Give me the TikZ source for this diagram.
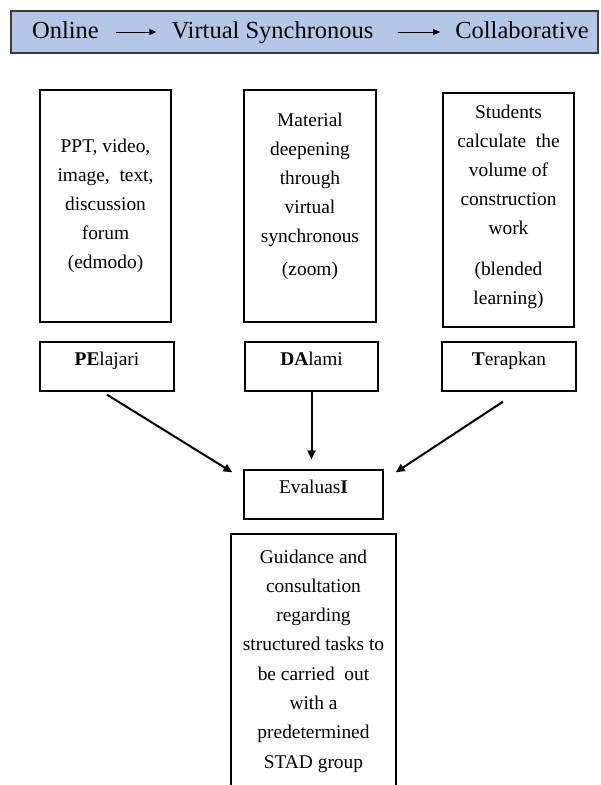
\documentclass[tikz,border=0pt]{standalone}
\usepackage{fontspec}
\setmainfont{Liberation Serif}
\usetikzlibrary{arrows.meta}
\definecolor{bannerblue}{HTML}{B4C7E7}
\definecolor{bannerline}{HTML}{3A3A3A}
\tikzset{
  boxshape/.style={draw=black, line width=1.3pt, inner sep=0pt},
  bodytext/.style={inner sep=0pt, align=center, font=\fontsize{19.4}{29}\selectfont},
  labeltext/.style={inner sep=0pt, anchor=base, font=\fontsize{19.4}{24}\selectfont},
  headtext/.style={inner sep=0pt, anchor=base, text height=17pt, text depth=5pt, font=\fontsize{24.5}{29}\selectfont},
  headarrow/.style={line width=1pt, -{Triangle[length=7pt,width=6pt]}},
  flowarrow/.style={line width=2pt, -{Triangle[length=9pt,width=8pt]}},
}
\begin{document}
\begin{tikzpicture}[x=1pt,y=-1pt]
\useasboundingbox (0,0) rectangle (601,785);
\clip (0,0) rectangle (601,785);
\fill[white] (0,0) rectangle (601,785);

% banner
\node[draw=bannerline, fill=bannerblue, line width=1.8pt, minimum width=587pt, minimum height=42pt, inner sep=0pt] (banner) at (304.5,32) {};
\node[headtext] (on) at (65.5,38) {Online};
\node[headtext] (vs) at (272.5,38) {Virtual Synchronous};
\node[headtext] (co) at (522,38) {Collaborative};
\draw[headarrow, shorten <=17pt, shorten >=15pt] (on) -- (vs);
\draw[headarrow, shorten <=24pt, shorten >=15pt] (vs) -- (co);

% upper boxes
\node[boxshape, minimum width=131pt, minimum height=232pt] (b1) at (105.5,206) {};
\node[boxshape, minimum width=132pt, minimum height=232pt] (b2) at (310,206) {};
\node[boxshape, minimum width=131pt, minimum height=234pt] (b3) at (508.5,210) {};

\node[bodytext] (t1) at (105.5,206) {PPT, video,\\image,\ \ text,\\discussion\\forum\\(edmodo)};
\node[bodytext] (t2) at (310,196) {Material\\deepening\\through\\virtual\\synchronous\\[4pt](zoom)};
\node[bodytext] (t3) at (508.5,207) {Students\\calculate\ \ the\\volume of\\construction\\work\\[12pt](blended\\learning)};

% label boxes
\node[boxshape, minimum width=134pt, minimum height=49pt] (pel) at (107,366.5) {};
\node[boxshape, minimum width=133pt, minimum height=49pt] (dal) at (311.5,366.5) {};
\node[boxshape, minimum width=134pt, minimum height=49pt] (ter) at (509,366.5) {};
\node[labeltext] (lpel) at (107,365) {\textbf{PE}lajari};
\node[labeltext] (ldal) at (311.5,365) {\textbf{DA}lami};
\node[labeltext] (lter) at (509,365) {\textbf{T}erapkan};

\node[boxshape, minimum width=139pt, minimum height=49pt] (eva) at (313.5,494.5) {};
\node[labeltext] (leva) at (313.5,493) {Evaluas\textbf{I}};

% bottom box (cut by the lower edge)
\node[boxshape, line width=1.1pt, minimum width=165pt, minimum height=280pt] (guide) at (313.5,674) {};
\node[bodytext, font=\fontsize{19.4}{29.3}\selectfont] (tg) at (313.5,661) {Guidance and\\consultation\\regarding\\structured tasks to\\be carried\ \ out\\with a\\predetermined\\STAD group};

% connectors (yshift is in canvas direction: negative = downwards)
\draw[flowarrow] ([yshift=-3pt]pel.south) -- ([xshift=-11pt,yshift=-3pt]eva.north west);
\draw[flowarrow] (dal.south) -- ([yshift=10pt]eva.north -| dal.south);
\draw[flowarrow] ([xshift=-6pt,yshift=-10pt]ter.south) -- ([xshift=12pt,yshift=-3pt]eva.north east);
\end{tikzpicture}
\end{document}
